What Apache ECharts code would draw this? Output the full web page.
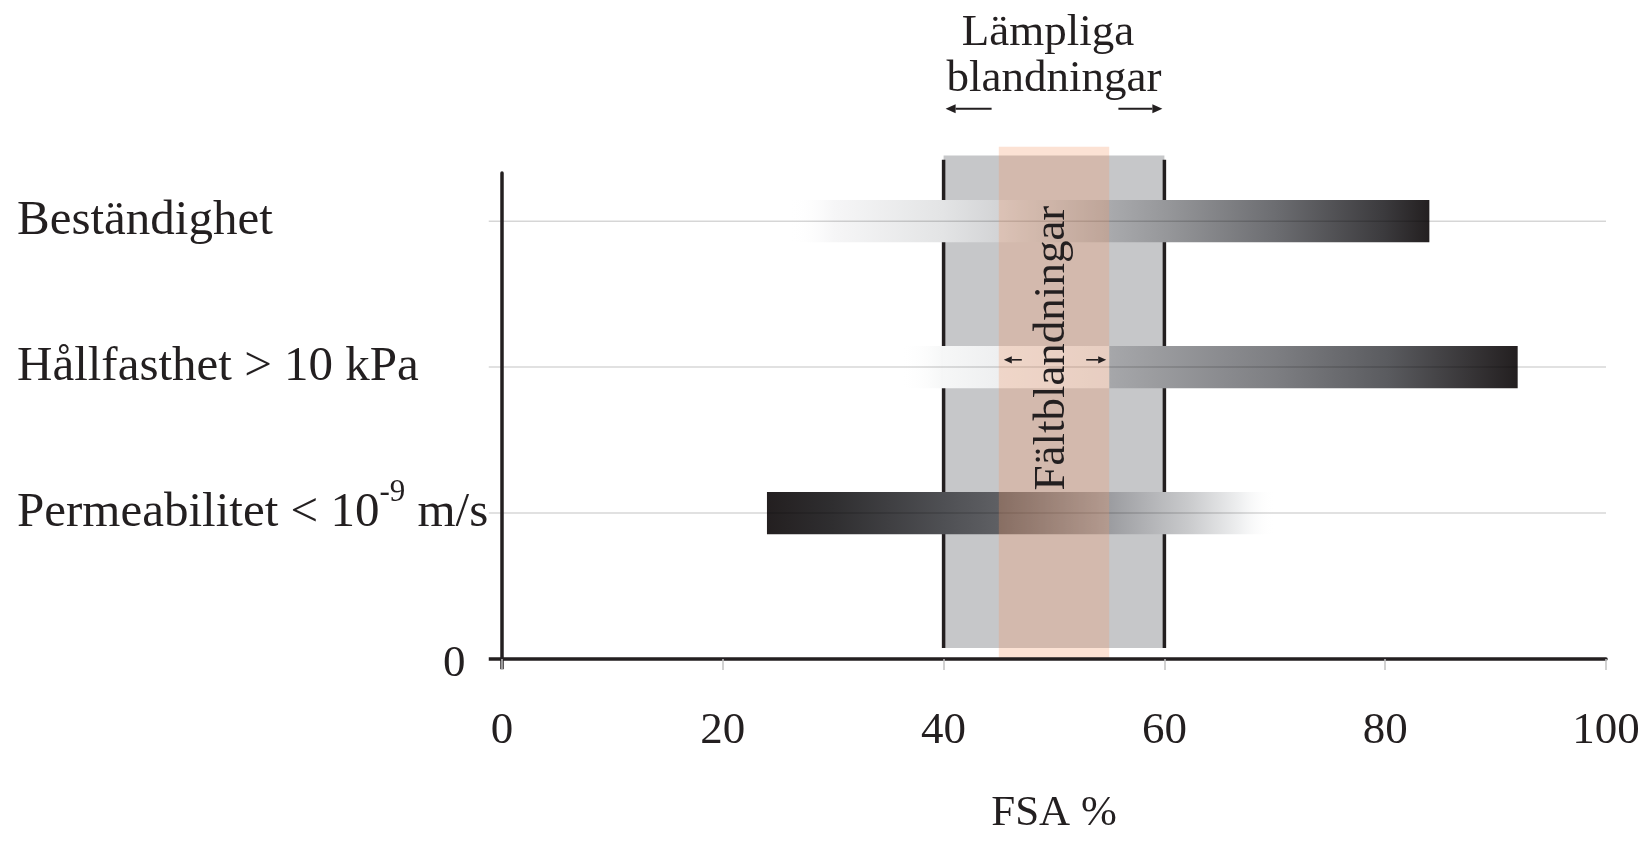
<!DOCTYPE html>
<html>
<head>
<meta charset="utf-8">
<script src="https://cdn.jsdelivr.net/npm/echarts@6/dist/echarts.min.js"></script>
<style>
  html, body { margin: 0; padding: 0; background: #fff; }
  #chart { width: 1648px; height: 841px; }
</style>
</head>
<body>
<div id="chart"></div>
<script>
// ---- data ----
const categories = ['Permeabilitet < 10{sup|-9}{t| m/s}', 'Hållfasthet > 10 kPa', 'Beständighet'];
const rowLevel = [1, 2, 3];
const barStart = [24, 36, 26];
const barEnd = [70, 92, 84];
const suitableMix = [40, 60];      // Lämpliga blandningar
const fieldMix = [45, 55];         // Fältblandningar
const xTicks = [0, 20, 40, 60, 80, 100];
const yTickValues = [0, 1, 2, 3];
const topLabel = ['Lämpliga', 'blandningar'];
const bandLabel = 'Fältblandningar';
const xAxisName = 'FSA %';

// ---- styles ----
const FONT = "'Liberation Serif', 'Times New Roman', serif";
const INK = '#231f20';
const barFades = [
  [ // Permeabilitet: dark -> fade out
    { offset: 0, color: '#231f20' },
    { offset: 0.13, color: '#2f2e30' },
    { offset: 0.35, color: '#4f5054' },
    { offset: 0.46, color: '#5f6064' },
    { offset: 0.67, color: '#9a9b9f' },
    { offset: 0.83, color: '#c9cacc' },
    { offset: 0.93, color: '#eeeff0' },
    { offset: 1, color: 'rgba(255,255,255,0)' }
  ],
  [ // Hållfasthet
    { offset: 0, color: 'rgba(255,255,255,0)' },
    { offset: 0.07, color: '#f6f7f7' },
    { offset: 0.16, color: '#eeeff0' },
    { offset: 0.339, color: '#e2e3e5' },
    { offset: 0.34, color: '#a6a7aa' },
    { offset: 0.61, color: '#7d7e82' },
    { offset: 0.79, color: '#5a5b5f' },
    { offset: 1, color: '#231f20' }
  ],
  [ // Beständighet
    { offset: 0, color: 'rgba(255,255,255,0)' },
    { offset: 0.07, color: '#f6f6f7' },
    { offset: 0.24, color: '#e3e4e5' },
    { offset: 0.33, color: '#d2d3d5' },
    { offset: 0.5, color: '#a9aaad' },
    { offset: 0.59, color: '#96979a' },
    { offset: 0.76, color: '#6c6d71' },
    { offset: 0.93, color: '#3b3a3d' },
    { offset: 1, color: '#231f20' }
  ]
];

function arrow(from, to, w, head) {
  const dx = to[0] - from[0], dy = to[1] - from[1];
  const len = Math.sqrt(dx * dx + dy * dy);
  const ux = dx / len, uy = dy / len;
  const bx = to[0] - ux * head, by = to[1] - uy * head;
  const hw = head * 0.45;
  return [
    { type: 'line', shape: { x1: from[0], y1: from[1], x2: bx, y2: by }, style: { stroke: INK, lineWidth: w } },
    { type: 'polygon', shape: { points: [[to[0], to[1]], [bx - uy * hw, by + ux * hw], [bx + uy * hw, by - ux * hw]] }, style: { fill: INK } }
  ];
}

const chart = echarts.init(document.getElementById('chart'));

const option = {
  animation: false,
  backgroundColor: '#ffffff',
  textStyle: { fontFamily: FONT, color: INK },
  grid: { left: 502, right: 42, top: 173, bottom: 182, containLabel: false },
  xAxis: {
    type: 'value', min: xTicks[0], max: xTicks[xTicks.length - 1], interval: 20, z: 10,
    axisLine: { show: true, lineStyle: { color: INK, width: 3.5 } },
    axisTick: { show: true, length: 11, lineStyle: { color: '#c4c4c4', width: 1.5 } },
    splitLine: { show: false },
    axisLabel: { fontSize: 45, fontFamily: FONT, color: INK, margin: 50 },
    name: xAxisName, nameLocation: 'middle', nameGap: 133,
    nameTextStyle: { fontSize: 43, fontFamily: FONT, color: INK }
  },
  yAxis: {
    type: 'value', min: 0, max: 3.33, z: 10,
    axisLine: { show: true, lineStyle: { color: INK, width: 3.5 } },
    axisTick: { show: false },
    splitLine: { show: false },
    axisLabel: {
      customValues: yTickValues,
      align: 'left', margin: 485,
      fontSize: 49, fontFamily: FONT, color: INK,
      formatter: function (v) {
        if (v === 0) return '{zero|0}';
        const idx = rowLevel.indexOf(v);
        return idx >= 0 ? categories[idx] : '';
      },
      rich: {
        zero: { fontSize: 45, fontFamily: FONT, color: INK, padding: [10, 0, 0, 426] },
        sup: { fontSize: 31, fontFamily: FONT, color: INK, verticalAlign: 'top', padding: [0, 0, 40, 0] },
        t: { fontSize: 49, fontFamily: FONT, color: INK }
      }
    }
  },
  series: [
    { // grey band + black lines (Lämpliga blandningar)
      type: 'custom', z: 1, silent: true,
      data: [[suitableMix[0], suitableMix[1]]],
      renderItem: function (params, api) {
        const a = api.coord([api.value(0), 3.45]);
        const b = api.coord([api.value(1), 0.075]);
        const lt = api.coord([api.value(0), 3.42]);
        return {
          type: 'group', children: [
            { type: 'rect', shape: { x: a[0], y: a[1], width: b[0] - a[0], height: b[1] - a[1] }, style: { fill: '#c6c7c9' } },
            { type: 'line', shape: { x1: a[0], y1: lt[1], x2: a[0], y2: b[1] }, style: { stroke: INK, lineWidth: 3.5 } },
            { type: 'line', shape: { x1: b[0], y1: lt[1], x2: b[0], y2: b[1] }, style: { stroke: INK, lineWidth: 3.5 } }
          ]
        };
      }
    },
    { // gradient bars
      type: 'custom', z: 2, silent: true,
      encode: { x: [0, 1], y: 2 },
      data: barStart.map((s, i) => [s, barEnd[i], rowLevel[i]]),
      renderItem: function (params, api) {
        const s = api.coord([api.value(0), api.value(2)]);
        const e = api.coord([api.value(1), api.value(2)]);
        const h = api.size([0, 0.29])[1];
        return {
          type: 'rect',
          shape: { x: s[0], y: s[1] - h / 2, width: e[0] - s[0], height: h },
          style: { fill: { type: 'linear', x: 0, y: 0, x2: 1, y2: 0, colorStops: barFades[params.dataIndex] } }
        };
      }
    },
    { // row grid lines + axis extensions
      type: 'custom', z: 3, silent: true,
      data: rowLevel.map(v => [v]),
      renderItem: function (params, api) {
        const l = api.coord([-1.2, api.value(0)]);
        const r = api.coord([100, api.value(0)]);
        const children = [
          { type: 'line', shape: { x1: l[0], y1: l[1], x2: r[0], y2: r[1] }, style: { stroke: 'rgba(0,0,0,0.16)', lineWidth: 1.5 } }
        ];
        if (params.dataIndex === 0) {
          const o = api.coord([0, 0]);
          const ol = api.coord([-1.2, 0]);
          const od = api.coord([0, -0.07]);
          children.push({ type: 'line', z2: 20, shape: { x1: ol[0], y1: o[1], x2: o[0], y2: o[1] }, style: { stroke: INK, lineWidth: 3.5 } });
          children.push({ type: 'line', z2: 20, shape: { x1: o[0], y1: o[1], x2: o[0], y2: od[1] }, style: { stroke: INK, lineWidth: 3.5 } });
        }
        return { type: 'group', children: children };
      }
    },
    { // peach band (Fältblandningar)
      type: 'custom', z: 4, silent: true,
      data: [[fieldMix[0], fieldMix[1]]],
      renderItem: function (params, api) {
        const a = api.coord([api.value(0), 3.51]);
        const b = api.coord([api.value(1), 0]);
        return { type: 'rect', shape: { x: a[0], y: a[1], width: b[0] - a[0], height: b[1] - a[1] }, style: { fill: 'rgba(244,151,101,0.28)' } };
      }
    },
    { // annotations
      type: 'custom', z: 5, silent: true,
      data: [[suitableMix[0], suitableMix[1], fieldMix[0], fieldMix[1]]],
      renderItem: function (params, api) {
        const s0 = api.coord([api.value(0), 3.77]);
        const s1 = api.coord([api.value(1), 3.77]);
        const f0 = api.coord([api.value(2), 2.05]);
        const f1 = api.coord([api.value(3), 2.05]);
        const midS = (s0[0] + s1[0]) / 2;
        const midF = (f0[0] + f1[0]) / 2;
        const t1 = api.coord([0, 4.29]);
        const t2 = api.coord([0, 3.97]);
        const tv = api.coord([0, 2.13]);
        let children = [
          { type: 'text', x: midS - 6, y: t1[1], style: { text: topLabel[0], font: '45px ' + FONT, fill: INK, align: 'center', verticalAlign: 'middle' } },
          { type: 'text', x: midS, y: t2[1], style: { text: topLabel[1], font: '45px ' + FONT, fill: INK, align: 'center', verticalAlign: 'middle' } },
          { type: 'text', x: midF - 2, y: tv[1], rotation: Math.PI / 2, style: { text: bandLabel, font: '45px ' + FONT, fill: INK, align: 'center', verticalAlign: 'middle' } }
        ];
        children = children.concat(arrow([s0[0] + 48, s0[1]], [s0[0] + 2, s0[1]], 2, 10));
        children = children.concat(arrow([s1[0] - 46, s1[1]], [s1[0] - 2, s1[1]], 2, 10));
        children = children.concat(arrow([f0[0] + 23, f0[1]], [f0[0] + 5, f0[1]], 1.6, 8));
        children = children.concat(arrow([f1[0] - 23, f1[1]], [f1[0] - 3, f1[1]], 1.6, 8));
        return { type: 'group', children: children };
      }
    }
  ]
};

chart.setOption(option);
</script>
</body>
</html>
